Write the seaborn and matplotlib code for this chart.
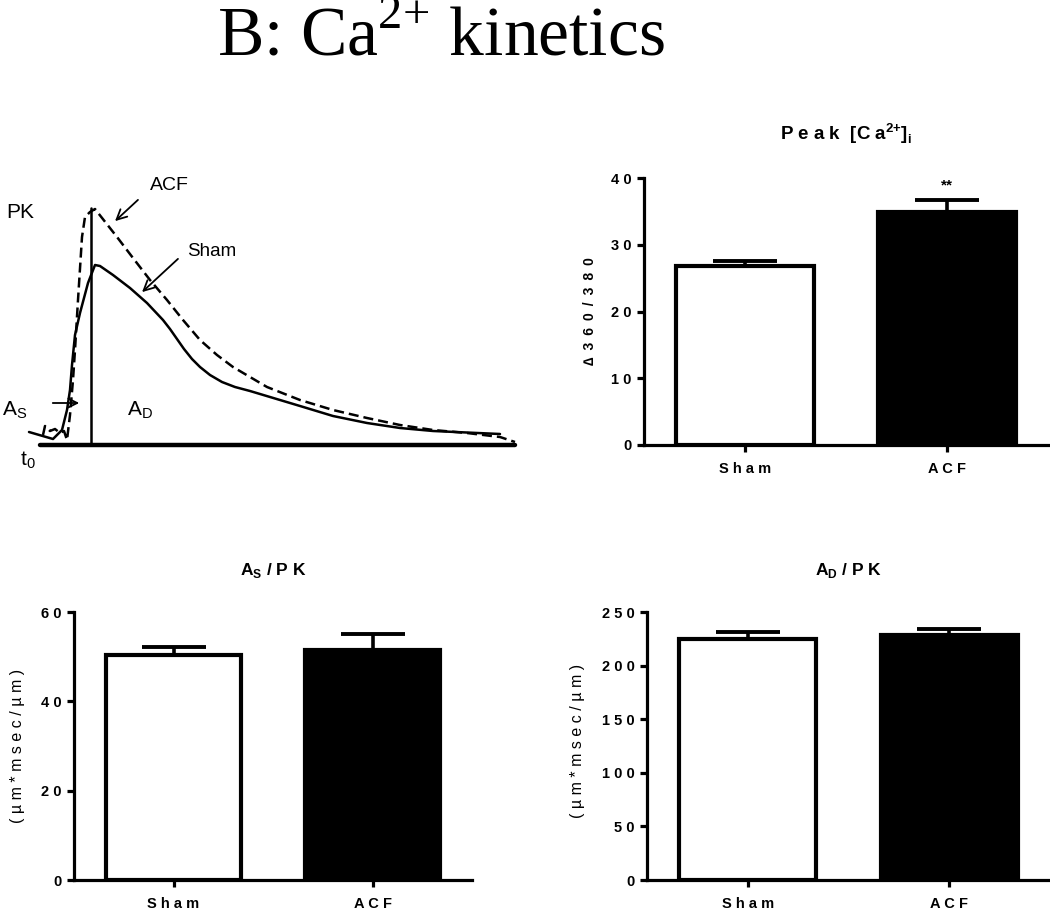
import matplotlib
matplotlib.use("Agg")
import matplotlib.pyplot as plt
import seaborn as sns
import numpy as np
from matplotlib.ticker import FuncFormatter, MultipleLocator

# ---------------- data ----------------
categories = ["Sham", "ACF"]
cat_labels = ["S h a m", "A C F"]

peak_mean = [26.8, 34.9]
peak_err = [0.8, 1.8]

as_mean = [50.3, 51.6]
as_err = [1.9, 3.5]

ad_mean = [225.1, 228.5]
ad_err = [6.2, 5.9]

# schematic transient (time, signal)
sham_t = [29, 53, 62, 67, 70, 72, 75, 80, 88, 95, 100, 113, 130, 147, 163, 170, 177,
          184, 192, 200, 210, 222, 235, 250, 280, 300, 333, 367, 400, 433, 500]
sham_s = [13, 6, 15, 35, 55, 80, 110, 132, 162, 180, 179, 170, 157, 142, 125, 116, 106,
          96, 86, 78, 70, 63, 58, 54, 45, 39, 29, 22, 17, 14, 11]
acf_t = [43, 45, 50, 55, 60, 64, 67, 70, 73, 75, 78, 82, 85, 90, 95, 117, 133, 150, 167,
         183, 200, 217, 233, 250, 267, 300, 333, 367, 400, 433, 467, 500, 515]
acf_s = [10, 19, 14, 16, 12, 14, 5, 30, 65, 95, 145, 208, 228, 233, 236, 208, 187, 165,
         145, 125, 105, 90, 78, 68, 58, 45, 35, 27, 20, 15, 12, 8, 3]
base_t = [40, 515]
base_s = [0, 0]
pk_t = [91, 91]
pk_s = [0, 237]

# ---------------- style ----------------
sns.set_style("ticks")
plt.rcParams["font.family"] = ["Liberation Sans", "DejaVu Sans"]
plt.rcParams["mathtext.fontset"] = "custom"
plt.rcParams["mathtext.rm"] = "Liberation Serif"
plt.rcParams["mathtext.sf"] = "Liberation Sans"
plt.rcParams["mathtext.bf"] = "Liberation Sans:bold"
for k in ["text.color", "axes.labelcolor", "xtick.color", "ytick.color", "axes.edgecolor"]:
    plt.rcParams[k] = "black"

fig = plt.figure(figsize=(10.5, 9.09), dpi=100)
W, H = 1050.0, 909.0


def axes_px(left, top, right, bottom):
    return fig.add_axes([left / W, 1 - bottom / H, (right - left) / W, (bottom - top) / H])


# ---------------- main title ----------------
fig.text(441 / W, 1 - 55 / H, r"B: Ca$^{2{+}}$ kinetics", family="Liberation Serif",
         fontsize=50, ha="center", va="baseline", color="black")

# ---------------- schematic ----------------
axs = axes_px(0, 150, 530, 480)
sns.lineplot(x=base_t, y=base_s, ax=axs, color="black", lw=3.2, sort=False, estimator=None)
sns.lineplot(x=pk_t, y=pk_s, ax=axs, color="black", lw=1.8, sort=False, estimator=None)
sns.lineplot(x=sham_t, y=sham_s, ax=axs, color="black", lw=1.8, sort=False, estimator=None)
sns.lineplot(x=acf_t, y=acf_s, ax=axs, color="black", lw=1.8, sort=False, estimator=None)
axs.lines[-1].set_dashes((4, 2))
axs.set_xlim(0, 530)
axs.set_ylim(-35, 295)
axs.axis("off")

sfs = 15
axs.text(20, 233, "PK", fontsize=sfs, ha="center", va="center")
axs.text(169, 259, "ACF", fontsize=14, ha="center", va="center")
axs.annotate("", xy=(113, 222), xytext=(140, 247),
             arrowprops=dict(arrowstyle="->", lw=1.3, color="black", mutation_scale=18))
axs.text(212, 193, "Sham", fontsize=13.5, ha="center", va="center")
axs.annotate("", xy=(140, 151), xytext=(180, 188),
             arrowprops=dict(arrowstyle="->", lw=1.3, color="black", mutation_scale=18))
axs.text(2, 30, r"A$_{\mathsf{S}}$", fontsize=sfs, ha="left", va="baseline")
axs.annotate("", xy=(82, 42), xytext=(50, 42),
             arrowprops=dict(arrowstyle="->", lw=1.3, color="black", mutation_scale=16))
axs.text(127, 30, r"A$_{\mathsf{D}}$", fontsize=sfs, ha="left", va="baseline")
axs.text(20, -20, r"t$_{\mathsf{0}}$", fontsize=sfs, ha="left", va="baseline")

# ---------------- bar panels ----------------
spaced = FuncFormatter(lambda v, p: " ".join(str(int(round(v)))))


def bar_panel(ax, means, errs, ymax, step, title, ylabel, ylab_x, ylab_y,
              ylab_size=11.5, ylab_weight="normal", title_size=12.5):
    sns.barplot(x=categories, y=means, hue=categories, palette=["white", "black"],
                edgecolor="black", linewidth=3, width=0.68, legend=False, ax=ax,
                saturation=1)
    ax.errorbar([0, 1], means, yerr=[[0, 0], errs], fmt="none", ecolor="black",
                elinewidth=2.6, capsize=23, capthick=2.8, zorder=1)
    ax.set_xlim(-0.5, 1.5)
    ax.set_ylim(0, ymax)
    ax.yaxis.set_major_locator(MultipleLocator(step))
    ax.yaxis.set_major_formatter(spaced)
    ax.set_xticks([0, 1])
    ax.set_xticklabels(cat_labels)
    for s in ["top", "right"]:
        ax.spines[s].set_visible(False)
    for s in ["left", "bottom"]:
        ax.spines[s].set_linewidth(2.3)
    ax.tick_params(axis="y", width=2.3, length=5, labelsize=10.5, pad=4)
    ax.tick_params(axis="x", width=2.3, length=5, labelsize=10.5, pad=7)
    for lab in ax.get_xticklabels() + ax.get_yticklabels():
        lab.set_fontweight("bold")
    ax.set_title(title, fontsize=title_size, fontweight="bold", pad=27)
    ax.set_ylabel(ylabel, fontsize=ylab_size, fontweight=ylab_weight)
    ax.yaxis.set_label_coords(ylab_x, ylab_y)
    ax.set_xlabel("")


ax1 = axes_px(644, 178, 1048, 445)
bar_panel(ax1, peak_mean, peak_err, 40, 10,
          r"P e a k  [C a$^{\mathbf{2{+}}}$]$_{\mathbf{i}}$",
          "∆\u20023\u20026\u20020\u2002/\u20023\u20028\u20020", -0.116, 0.5,
          ylab_size=10, ylab_weight="bold", title_size=13.5)
ax1.text(1, peak_mean[1] + peak_err[1] + 1.2, "**", ha="center", va="bottom",
         fontsize=11, fontweight="bold")

ax2 = axes_px(74, 612, 472, 880)
bar_panel(ax2, as_mean, as_err, 60, 20, r"A$_{\mathbf{S}}$ / P K",
          "( µ m * m s e c / µ m )", -0.123, 0.5)

ax3 = axes_px(647, 612, 1050, 880)
bar_panel(ax3, ad_mean, ad_err, 250, 50, r"A$_{\mathbf{D}}$ / P K",
          "( µ m * m s e c / µ m )", -0.154, 0.52)

fig.savefig("out.png", dpi=100)
